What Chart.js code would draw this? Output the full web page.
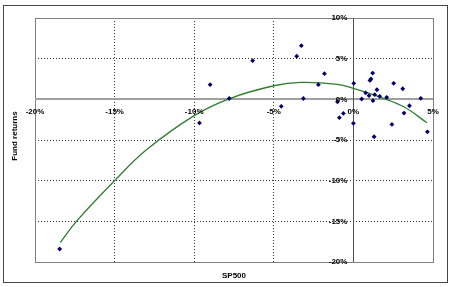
<!DOCTYPE html>
<html>
<head>
<meta charset="utf-8">
<script src="https://cdn.jsdelivr.net/npm/chart.js@4"></script>
<style>
  html, body { margin: 0; padding: 0; background: #fff; }
  #wrap { width: 450px; height: 287px; }
</style>
</head>
<body>
<div id="wrap"><canvas id="fundChart" width="450" height="287"></canvas></div>
<script>
// values, in %
const sp500 = [-18.45, -9.67, -9.0, -7.8, -6.33, -4.53, -3.56, -3.27, -3.14, -2.2, -1.82, -1.0, -0.88, -0.63,
  0.02, 0.0, 0.52, 0.77, 0.98, 1.04, 1.1, 1.21, 1.23, 1.3, 1.34, 1.48, 1.65, 2.09, 2.42, 2.53, 3.1, 3.18, 3.52, 4.23, 4.65];
const fundReturns = [-18.4, -2.9, 1.8, 0.1, 4.75, -0.86, 5.3, 6.6, 0.1, 1.8, 3.15, -0.3, -2.26, -1.73,
  1.97, -2.95, 0.04, 0.8, 0.45, 2.33, 2.5, 3.23, -0.17, -4.6, 0.57, 1.18, 0.37, 0.25, -3.08, 1.97, 1.3, -1.69, -0.79, 0.12, -4.0];

// trend line as drawn in the picture
const trendX = [-18.41, -17.4, -15, -13, -10, -7.77, -5, -3.3, -1, 0, 1.9, 3.22, 4.62];
const trendY = [-17.6, -15, -10, -6.2, -2.0, 0.1, 1.67, 2.09, 1.85, 1.35, 0.12, -0.98, -2.88];

const xTicks = [-20, -15, -10, -5, 0, 5];
const yTicks = [10, 5, 0, -5, -10, -15, -20];

const FONT = 'bold 8px "Liberation Sans", Arial, sans-serif';

const frame = {
  id: 'frame',
  beforeDatasetsDraw(chart) {
    const { ctx, chartArea: a, scales } = chart;
    ctx.save();
    // outer border
    ctx.strokeStyle = '#444';
    ctx.lineWidth = 1;
    ctx.strokeRect(3.5, 5.5, 444, 277);
    // plot frame
    ctx.strokeStyle = '#808080';
    ctx.strokeRect(a.left + 0.5, a.top + 0.5, a.right - a.left, a.bottom - a.top);
    // zero axes
    const y0 = Math.round(scales.y.getPixelForValue(0));
    ctx.strokeStyle = '#a0a0a0';
    ctx.lineWidth = 2;
    ctx.beginPath(); ctx.moveTo(a.left, y0); ctx.lineTo(a.right, y0); ctx.stroke();
    const x0 = Math.round(scales.x.getPixelForValue(0)) + 0.5;
    ctx.strokeStyle = '#505050';
    ctx.lineWidth = 1;
    ctx.beginPath(); ctx.moveTo(x0, a.top); ctx.lineTo(x0, a.bottom); ctx.stroke();
    ctx.restore();
  },
  afterDraw(chart) {
    const { ctx, chartArea: a, scales } = chart;
    const x0 = scales.x.getPixelForValue(0);
    const y0 = scales.y.getPixelForValue(0);
    ctx.save();
    ctx.fillStyle = '#000';
    ctx.font = FONT;
    ctx.textAlign = 'center';
    ctx.textBaseline = 'middle';
    scales.x.ticks.forEach(t => {
      ctx.fillText(t.value + '%', scales.x.getPixelForValue(t.value), y0 + 12);
    });
    ctx.textAlign = 'right';
    scales.y.ticks.forEach(t => {
      ctx.fillText(t.value + '%', x0 - 6, scales.y.getPixelForValue(t.value));
    });
    // axis titles
    ctx.textAlign = 'center';
    ctx.fillText('SP500', (a.left + a.right) / 2, 276);
    ctx.translate(15, 136);
    ctx.rotate(-Math.PI / 2);
    ctx.fillText('Fund returns', 0, 0);
    ctx.restore();
  }
};

const gridColor = ctx => {
  const v = ctx.tick && ctx.tick.value;
  return (v === 0 || v === 5 && ctx.scale.axis === 'x' || v === -20 || v === 10) ? 'rgba(0,0,0,0)' : '#333';
};

const ctx = document.getElementById('fundChart').getContext('2d');
new Chart(ctx, {
  type: 'scatter',
  data: {
    datasets: [{
      label: 'Fund returns',
      data: sp500.map((x, i) => ({ x: x, y: fundReturns[i] })),
      backgroundColor: '#000066',
      borderColor: '#000066',
      pointStyle: 'rectRot',
      pointRadius: 2.4,
      borderWidth: 0
    }, {
      label: 'Trend',
      data: trendX.map((x, i) => ({ x: x, y: trendY[i] })),
      showLine: true,
      tension: 0.4,
      borderColor: '#2d7d2d',
      borderWidth: 1.3,
      pointRadius: 0,
      fill: false
    }]
  },
  options: {
    responsive: false,
    animation: false,
    layout: { padding: { left: 35, right: 17, top: 18, bottom: 25 } },
    plugins: { legend: { display: false }, tooltip: { enabled: false } },
    scales: {
      x: {
        type: 'linear', min: -20, max: 5,
        afterBuildTicks: s => { s.ticks = xTicks.map(v => ({ value: v })); },
        afterFit: s => { s.height = 0; },
        ticks: { display: false },
        grid: { color: gridColor, drawTicks: false, lineWidth: 1 },
        border: { display: false, dash: [1, 2] }
      },
      y: {
        type: 'linear', min: -20, max: 10,
        afterBuildTicks: s => { s.ticks = yTicks.map(v => ({ value: v })); },
        afterFit: s => { s.width = 0; },
        ticks: { display: false },
        grid: { color: gridColor, drawTicks: false, lineWidth: 1 },
        border: { display: false, dash: [1, 2] }
      }
    }
  },
  plugins: [frame]
});
</script>
</body>
</html>
